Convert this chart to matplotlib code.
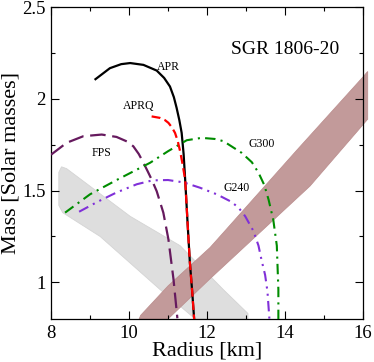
import matplotlib
matplotlib.use("Agg")
import matplotlib.pyplot as plt
from matplotlib.patches import Polygon
from matplotlib.ticker import MultipleLocator

plt.rcParams["font.family"] = "serif"
plt.rcParams["font.serif"] = ["Liberation Serif", "DejaVu Serif"]

# mass-radius curves (radius km, mass Msun)
apr_r = [9.14, 9.51, 9.8, 10.03, 10.37, 10.71, 10.9, 11.05, 11.15, 11.22, 11.29, 11.35, 11.40, 11.44, 11.50, 11.56, 11.62, 11.67]
apr_m = [2.108, 2.168, 2.19, 2.196, 2.186, 2.155, 2.115, 2.068, 2.01, 1.952, 1.885, 1.815, 1.70, 1.56, 1.33, 1.11, 0.95, 0.80]

aprq_r = [10.58, 10.79, 10.92, 11.01, 11.10, 11.18, 11.25, 11.31, 11.36, 11.40, 11.44, 11.50, 11.56, 11.62, 11.67]
aprq_m = [1.905, 1.897, 1.885, 1.870, 1.845, 1.815, 1.77, 1.715, 1.66, 1.61, 1.56, 1.33, 1.11, 0.95, 0.80]

fps_r = [8.0, 8.4, 8.83, 9.3, 9.68, 9.95, 10.11, 10.25, 10.37, 10.48, 10.58, 10.71, 10.88, 11.01, 11.14, 11.24]
fps_m = [1.696, 1.761, 1.797, 1.806, 1.793, 1.768, 1.742, 1.70, 1.652, 1.605, 1.561, 1.497, 1.38, 1.235, 1.018, 0.804]

g300_r = [8.36, 9.0, 9.7, 10.54, 11.0, 11.48, 11.86, 12.2, 12.42, 12.89, 13.15, 13.32, 13.47, 13.58, 13.70, 13.79, 13.83, 13.83]
g300_m = [1.38, 1.48, 1.56, 1.652, 1.715, 1.775, 1.788, 1.782, 1.77, 1.706, 1.655, 1.598, 1.53, 1.45, 1.34, 1.20, 0.96, 0.80]

g240_r = [8.72, 9.2, 9.68, 10.2, 10.6, 11.0, 11.4, 11.82, 12.25, 12.59, 12.80, 12.98, 13.19, 13.32, 13.40, 13.49, 13.55, 13.60]
g240_m = [1.385, 1.44, 1.49, 1.535, 1.556, 1.558, 1.545, 1.516, 1.48, 1.443, 1.41, 1.36, 1.28, 1.20, 1.12, 1.04, 0.95, 0.80]

# SGR 1806-20 band (upper edge then lower edge, reversed)
sgr_upper_r = [10.26, 10.3, 11.0, 12.08, 12.5, 14.3, 16.0, 16.12]
sgr_upper_m = [0.80, 0.82, 0.98, 1.19, 1.29, 1.72, 2.12, 2.15]
sgr_lower_r = [16.12, 16.0, 14.64, 12.08, 11.0]
sgr_lower_m = [1.89, 1.86, 1.525, 1.02, 0.80]

# grey band
grey_r = [8.2, 8.27, 8.4, 10.03, 11.31, 12.42, 13.05, 13.05, 11.7, 11.31, 10.8, 9.26, 8.3, 8.2]
grey_m = [1.60, 1.63, 1.62, 1.36, 1.20, 0.96, 0.83, 0.80, 0.80, 0.87, 0.96, 1.25, 1.38, 1.42]

labels = {
    "APR": (11.0, 2.175),
    "APRQ": (10.24, 1.964),
    "FPS": (9.3, 1.703),
    "G300": (13.4, 1.752),
    "G240": (12.76, 1.516),
}

fig = plt.figure(figsize=(3.74, 3.62), dpi=100)
ax = fig.add_axes([0.1364, 0.1188, 0.8342, 0.861])

ax.add_patch(Polygon(list(zip(grey_r, grey_m)), closed=True,
                     facecolor="#DEDEDE", edgecolor="#D4D4D4", lw=0.6, zorder=1))
sgr_r = sgr_upper_r + sgr_lower_r
sgr_m = sgr_upper_m + sgr_lower_m
ax.add_patch(Polygon(list(zip(sgr_r, sgr_m)), closed=True,
                     facecolor="#C29A9A", edgecolor="#BC9090", lw=0.6, zorder=1,
                     clip_on=False))

ax.plot(apr_r, apr_m, color="black", lw=1.6, zorder=3)
ax.plot(aprq_r, aprq_m, color="#FF0000", lw=1.6, dashes=(4, 2), zorder=4)
ax.plot(fps_r, fps_m, color="#661A5E", lw=1.6, dashes=(7, 3), zorder=3)
ax.plot(g300_r, g300_m, color="#008C00", lw=1.5, dashes=(5, 2.5, 1, 2.5), zorder=3)
ax.plot(g240_r, g240_m, color="#8030D8", lw=1.5, dashes=(5, 2.5, 1, 2.5, 1, 2.5), zorder=3)

for name, (x, y) in labels.items():
    ax.text(x, y, name, fontsize=8.5, ha="center", va="center", zorder=5)
ax.text(14.0, 2.272, "SGR 1806-20", fontsize=14, ha="center", va="center")

ax.set_xlim(8, 16)
ax.set_ylim(0.8, 2.5)
ax.xaxis.set_major_locator(MultipleLocator(2))
ax.xaxis.set_minor_locator(MultipleLocator(1))
ax.set_yticks([1, 1.5, 2, 2.5])
ax.set_yticklabels(["1", "1.5", "2", "2.5"])
ax.yaxis.set_minor_locator(MultipleLocator(0.25))
ax.tick_params(which="both", direction="in", top=True, right=True, labelsize=13.5, width=0.8)
ax.tick_params(which="major", length=6, pad=4)
ax.tick_params(which="minor", length=3)
for s in ax.spines.values():
    s.set_linewidth(0.9)

ax.set_xlabel("Radius [km]", fontsize=16, labelpad=0)
ax.set_ylabel("Mass [Solar masses]", fontsize=16, labelpad=1)

fig.savefig("out.png", dpi=100)
